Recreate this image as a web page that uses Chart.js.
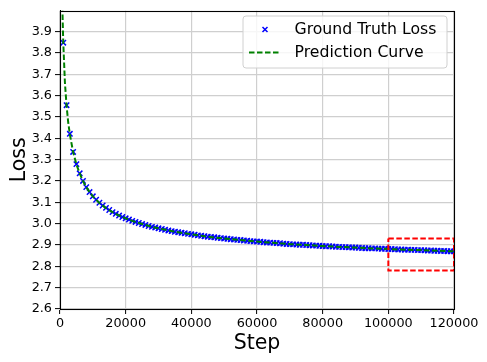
<!DOCTYPE html>
<html>
<head>
<meta charset="utf-8">
<script src="https://cdn.jsdelivr.net/npm/chart.js@4.4.0/dist/chart.umd.min.js"></script>
<style>
  html, body { margin: 0; padding: 0; background: #fff; }
  canvas { display: block; }
</style>
</head>
<body>
<canvas id="loss" width="487" height="362"></canvas>
<script>
// ground truth loss, one marker every 1000 steps (step given in thousands)
const truthStepsK = [
  1, 2, 3, 4, 5, 6, 7, 8, 9, 10, 11, 12, 13, 14, 15, 16, 17, 18, 19, 20,
  21, 22, 23, 24, 25, 26, 27, 28, 29, 30, 31, 32, 33, 34, 35, 36, 37, 38, 39, 40,
  41, 42, 43, 44, 45, 46, 47, 48, 49, 50, 51, 52, 53, 54, 55, 56, 57, 58, 59, 60,
  61, 62, 63, 64, 65, 66, 67, 68, 69, 70, 71, 72, 73, 74, 75, 76, 77, 78, 79, 80,
  81, 82, 83, 84, 85, 86, 87, 88, 89, 90, 91, 92, 93, 94, 95, 96, 97, 98, 99, 100,
  101, 102, 103, 104, 105, 106, 107, 108, 109, 110, 111, 112, 113, 114, 115, 116, 117, 118, 119, 120
];
const truthLoss = [
  3.848, 3.555, 3.421, 3.336, 3.279, 3.236, 3.200, 3.171, 3.148, 3.128,
  3.112, 3.098, 3.085, 3.074, 3.064, 3.054, 3.046, 3.038, 3.031, 3.025,
  3.019, 3.013, 3.008, 3.003, 2.998, 2.994, 2.989, 2.985, 2.982, 2.978,
  2.975, 2.971, 2.968, 2.965, 2.962, 2.960, 2.957, 2.955, 2.952, 2.950,
  2.948, 2.945, 2.943, 2.941, 2.939, 2.937, 2.936, 2.934, 2.932, 2.930,
  2.929, 2.927, 2.926, 2.924, 2.923, 2.921, 2.920, 2.918, 2.917, 2.916,
  2.915, 2.913, 2.912, 2.911, 2.910, 2.909, 2.908, 2.906, 2.905, 2.904,
  2.903, 2.902, 2.901, 2.901, 2.900, 2.899, 2.898, 2.897, 2.896, 2.895,
  2.894, 2.894, 2.893, 2.892, 2.891, 2.890, 2.890, 2.889, 2.888, 2.888,
  2.887, 2.886, 2.885, 2.885, 2.884, 2.884, 2.883, 2.882, 2.882, 2.881,
  2.881, 2.880, 2.879, 2.879, 2.878, 2.878, 2.877, 2.877, 2.876, 2.876,
  2.875, 2.874, 2.874, 2.873, 2.873, 2.872, 2.872, 2.871, 2.871, 2.870
];

// fitted prediction curve
const predSteps = [
  600, 700, 800, 900, 1000, 1500, 2000, 2500, 3000, 4000, 5000, 6000, 7000, 8000, 9000, 10000,
  12000, 14000, 16000, 18000, 20000, 22000, 24000, 26000, 28000, 30000,
  35000, 40000, 45000, 50000, 55000, 60000, 65000, 70000, 75000, 80000,
  85000, 90000, 95000, 100000, 105000, 110000, 115000, 120000
];
const predLoss = [
  4.130, 4.040, 3.965, 3.902, 3.848, 3.660, 3.552, 3.475, 3.419, 3.335, 3.278, 3.235, 3.200, 3.171, 3.148, 3.128,
  3.097, 3.073, 3.054, 3.038, 3.025, 3.013, 3.003, 2.994, 2.985, 2.978,
  2.962, 2.950, 2.939, 2.930, 2.923, 2.916, 2.910, 2.904, 2.900, 2.895,
  2.891, 2.888, 2.884, 2.881, 2.878, 2.876, 2.873, 2.870
];

// red dashed zoom box
const boxSteps = [100000, 120000, 120000, 100000, 100000];
const boxLoss = [2.93, 2.93, 2.78, 2.78, 2.93];

const xTicks = [0, 20000, 40000, 60000, 80000, 100000, 120000];
const legendLabels = ["Ground Truth Loss", "Prediction Curve"];

const FONT = "'DejaVu Sans', sans-serif";

let truthPts = truthStepsK.map((k, i) => ({ x: k * 1000, y: truthLoss[i] }));
let predPts = predSteps.map((s, i) => ({ x: s, y: predLoss[i] }));
let boxPts = boxSteps.map((s, i) => ({ x: s, y: boxLoss[i] }));

// frame + legend, drawn on top like matplotlib
const framePlugin = {
  id: "frameLegend",
  afterDraw(chart) {
    const ctx = chart.ctx;
    const a = chart.chartArea;
    ctx.save();
    ctx.strokeStyle = "#000";
    ctx.lineWidth = 1.1;
    ctx.strokeRect(Math.round(a.left) + 0.5, Math.round(a.top) + 0.5,
      Math.round(a.right) - Math.round(a.left), Math.round(a.bottom) - Math.round(a.top));

    // legend box
    const bx = 243, by = 16, bw = 204, bh = 52, r = 3;
    ctx.beginPath();
    ctx.moveTo(bx + r, by);
    ctx.arcTo(bx + bw, by, bx + bw, by + bh, r);
    ctx.arcTo(bx + bw, by + bh, bx, by + bh, r);
    ctx.arcTo(bx, by + bh, bx, by, r);
    ctx.arcTo(bx, by, bx + bw, by, r);
    ctx.closePath();
    ctx.fillStyle = "rgba(255,255,255,0.8)";
    ctx.fill();
    ctx.strokeStyle = "#d0d0d0";
    ctx.lineWidth = 1;
    ctx.stroke();

    // x marker
    ctx.strokeStyle = "#0000ff";
    ctx.lineWidth = 1.5;
    ctx.beginPath();
    ctx.moveTo(262.5, 27); ctx.lineTo(267.5, 32);
    ctx.moveTo(267.5, 27); ctx.lineTo(262.5, 32);
    ctx.stroke();

    // dashed line
    ctx.strokeStyle = "#008000";
    ctx.lineWidth = 2;
    ctx.setLineDash([5.5, 2.5]);
    ctx.beginPath();
    ctx.moveTo(249, 52.5); ctx.lineTo(281, 52.5);
    ctx.stroke();
    ctx.setLineDash([]);

    ctx.fillStyle = "#000";
    ctx.font = "15.7px " + FONT;
    ctx.textBaseline = "middle";
    ctx.textAlign = "left";
    ctx.fillText(legendLabels[0], 294.5, 29.5);
    ctx.fillText(legendLabels[1], 294.5, 52.5);
    ctx.restore();
  }
};

const data = {
  datasets: [
    {
      label: legendLabels[0],
      data: truthPts,
      showLine: false,
      pointStyle: "crossRot",
      pointRadius: 3.8,
      pointBorderWidth: 1.5,
      pointBorderColor: "#0000ff",
      pointBackgroundColor: "#0000ff",
      order: 3
    },
    {
      label: legendLabels[1],
      data: predPts,
      borderColor: "#008000",
      borderWidth: 2,
      borderDash: [5.5, 2.5],
      pointRadius: 0,
      tension: 0,
      fill: false,
      order: 2
    },
    {
      label: "box",
      data: boxPts,
      borderColor: "#ff0000",
      borderWidth: 2,
      borderDash: [5.5, 2.5],
      pointRadius: 0,
      tension: 0,
      fill: false,
      clip: 4,
      order: 1
    }
  ]
};

const config = {
  type: "line",
  data: data,
  options: {
    responsive: false,
    animation: false,
    layout: { padding: { top: 7, right: 33, bottom: 0, left: 0 } },
    plugins: {
      legend: { display: false },
      tooltip: { enabled: false }
    },
    scales: {
      x: {
        type: "linear",
        min: 0,
        max: 120000,
        afterBuildTicks: (s) => { s.ticks = xTicks.map(v => ({ value: v })); },
        afterFit: (s) => { s.height = 53; },
        ticks: {
          callback: (v) => String(v),
          maxRotation: 0,
          autoSkip: false,
          padding: 2,
          color: "#000",
          font: { family: FONT, size: 12.8 }
        },
        grid: { color: "#cfcfcf", lineWidth: 1.2, tickColor: "#000", tickLength: 5, tickWidth: 1 },
        border: { color: "#000", width: 1 },
        title: {
          display: true,
          text: "Step",
          color: "#000",
          font: { family: FONT, size: 20.5 },
          padding: { top: 0, bottom: 6 }
        }
      },
      y: {
        min: 2.6,
        max: 3.998,
        afterFit: (s) => { s.width = 60; },
        ticks: {
          stepSize: 0.1,
          includeBounds: false,
          callback: (v) => Number(v).toFixed(1),
          padding: 3,
          color: "#000",
          font: { family: FONT, size: 12.8 }
        },
        grid: { color: "#cfcfcf", lineWidth: 1.2, tickColor: "#000", tickLength: 5, tickWidth: 1 },
        border: { color: "#000", width: 1 },
        title: {
          display: true,
          text: "Loss",
          color: "#000",
          font: { family: FONT, size: 20.5 },
          padding: { top: 7, bottom: 0 }
        }
      }
    }
  },
  plugins: [framePlugin]
};

let lossChart = new Chart(document.getElementById("loss").getContext("2d"), config);
</script>
</body>
</html>
